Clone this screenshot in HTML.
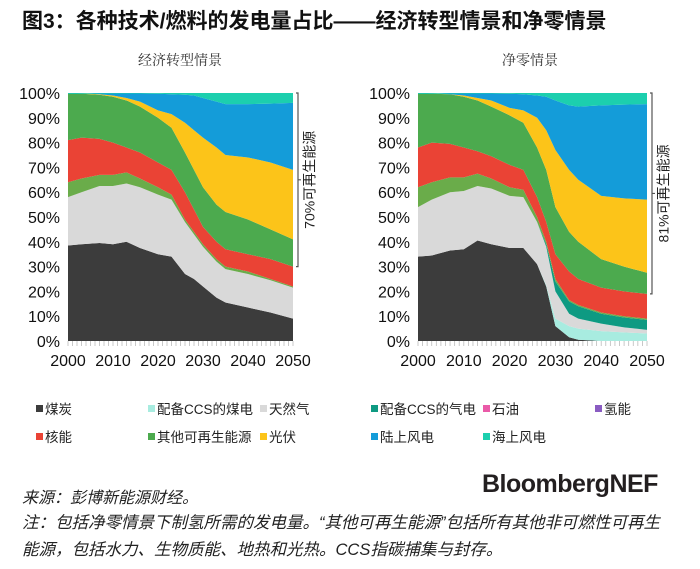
<!DOCTYPE html>
<html><head><meta charset="utf-8">
<style>
body{margin:0;width:700px;height:569px;background:#fff;font-family:"Liberation Sans","Noto Sans CJK SC",sans-serif;overflow:hidden;position:relative}
.t{position:absolute;white-space:nowrap}
</style></head>
<body>
<div class="t" style="left:22px;top:5px;font-size:21px;font-weight:bold;color:#111;">图3：各种技术/燃料的发电量占比——经济转型情景和净零情景</div>
<svg id="c" width="700" height="569" style="position:absolute;left:0;top:0"></svg>
<div class="t" style="left:22px;top:484px;font-size:16px;font-style:italic;color:#222;">来源：彭博新能源财经。</div>
<div class="t" style="left:482px;top:470px;font-size:25px;font-weight:bold;color:#231f20;letter-spacing:-0.5px">BloombergNEF</div>
<div class="t" style="left:22px;top:510px;font-size:16.5px;font-style:italic;color:#222;line-height:27px;white-space:normal;width:652px">注：包括净零情景下制氢所需的发电量。“其他可再生能源”包括所有其他非可燃性可再生能源，包括水力、生物质能、地热和光热。CCS指碳捕集与封存。</div>
<script>
const years=[2000,2003,2007,2010,2013,2016,2020,2023,2026,2028,2030,2033,2035,2040,2045,2050];
// cumulative tops (%) — economic transition scenario
const etCoal=[38.5,39,39.5,39,40,37.5,35,34,27,25,22,17.5,15.5,13.5,11.5,9];
const etCoalCcs=[38.5,39,39.5,39,40,37.5,35,34,27,25,22,17.5,15.5,13.5,11.5,9];
const etGas=[58,60,62.5,62.5,63.5,62,59,57,48,43,38,32,29,27,24.5,21.5];
const etGasCcs=[58,60,62.5,62.5,63.5,62,59,57,48,43,38,32,29,27,24.5,21.5];
const etOil=[64,65.5,67,67,68,65.5,62,59,49,44,39,33,30,28,25,22];
const etNuclear=[81,82,81.5,80,78,76,72,69,60,53,46,40,37,35,33,30];
const etOther=[100,99.7,99.3,98.5,97,94.5,90,86,76,69,62,55,52,49,45,41];
const etSolar=[100,99.8,99.5,99,98,96.5,93,91.5,88,85,82,78,75,74,72,69];
const etOnshore=[99.7,99.7,99.8,99.8,99.8,99.8,99.7,99.5,99.3,99,98,96.5,95.5,95.5,95.7,96];
// net zero scenario
const nzCoal=[34,34.5,36.5,37,40.5,39,37.5,37.5,31,22,6,1.5,0.5,0,0,0];
const nzCoalCcs=[34,34.5,36.5,37,40.5,39,37.5,37.5,31,22.5,9,6,5,4,3.5,3];
const nzGas=[54,57,60,60.5,62.5,61.5,58.5,58,48,38,20,11,9,7,5.5,4.5];
const nzGasCcs=[54,57,60,60.5,62.5,61.5,58.5,58,48,39,24,16,14,11,9.5,8.5];
const nzOil=[62,64,66,66,67.5,65.5,62,61,50,40,25,16.5,14.5,11.5,10,9];
const nzNuclear=[78,80,79.5,78,76.5,74.5,71,69,58,48,35,28,25,21.5,20,19];
const nzOther=[100,99.7,99.5,98.5,97,94.5,91,88,78,69,54,44,40,33,30,27.5];
const nzSolar=[100,99.8,99.5,99,98,97,94,93,90,85,77,69,65,58.5,57.5,57];
const nzOnshore=[99.7,99.7,99.8,99.8,99.8,99.8,99.7,99.5,99,98.5,97,95,94.5,95,95.3,95.5];
const yTicks=[0,10,20,30,40,50,60,70,80,90,100];
const xTicks=[2000,2010,2020,2030,2040,2050];
const colors=['#3c3c3c','#a8ece0','#d9d9d9','#0e9a82','#6aac4a','#ea4335','#4caa4e','#fcc419','#149cd9','#1ccfae'];
const legendNames=['煤炭','配备CCS的煤电','天然气','配备CCS的气电','石油','氢能','核能','其他可再生能源','光伏','陆上风电','海上风电'];
const legendColors=['#3c3c3c','#a8ece0','#d9d9d9','#0e9a82','#ea5aa8','#8a5cc2','#ea4335','#4caa4e','#fcc419','#149cd9','#1ccfae'];
const NS='http://www.w3.org/2000/svg';
const svg=document.getElementById('c');
function el(tag,attrs,parent){const e=document.createElementNS(NS,tag);for(const k in attrs)e.setAttribute(k,attrs[k]);(parent||svg).appendChild(e);return e;}
const Y0=341,Y1=93;
function yS(v){return Y0-(v/100)*(Y0-Y1);}
function drawChart(x0,x1,layers,title,tcx,brX,brBottom,brLabel,key){
  const xS=y=>x0+(y-2000)/50*(x1-x0);
  const g=el('g',{});
  
  
  const t=el('text',{x:tcx,y:65,'font-size':14,'text-anchor':'middle',fill:'#333','font-family':'"Liberation Serif","Noto Serif CJK SC",serif'},g);
  t.textContent=title;
  
  
  let prev=years.map(()=>0);
  layers.forEach((top,i)=>{
    let d='M'+years.map((y,j)=>xS(y)+','+yS(top[j])).join('L');
    for(let j=years.length-1;j>=0;j--)d+='L'+xS(years[j])+','+yS(prev[j]);
    const p=el('path',{d:d+'Z',fill:colors[i]},g);
    
    
    prev=top;
  });
  let d='M'+xS(2000)+','+yS(100)+'L'+xS(2050)+','+yS(100);
  for(let j=years.length-1;j>=0;j--)d+='L'+xS(years[j])+','+yS(prev[j]);
  const off=el('path',{d:d+'Z',fill:colors[9]},g);
  
  
  yTicks.forEach(v=>{const tx=el('text',{x:x0-8,y:yS(v)+6,'font-size':16,'text-anchor':'end',fill:'#111'},g);tx.textContent=v+'%';
    
    });
  for(let y=2000;y<=2050;y++)el('line',{x1:xS(y),x2:xS(y),y1:Y0,y2:Y0+5,stroke:'#bbb','stroke-width':0.8},g);
  xTicks.forEach(v=>{const tx=el('text',{x:xS(v),y:Y0+25,'font-size':16,'text-anchor':'middle',fill:'#111'},g);tx.textContent=v;
    
    });
  const b=el('path',{d:`M${brX-2},${Y1}H${brX}V${yS(brBottom)}H${brX-2}M${brX},${(Y1+yS(brBottom))/2}H${brX+3}`,fill:'none',stroke:'#555','stroke-width':1.2},g);
  
  
  const cy=(Y1+yS(brBottom))/2;
  const bl=el('text',{x:brX+13,y:cy,'font-size':14,'text-anchor':'middle',fill:'#222',transform:`rotate(-90 ${brX+13} ${cy})`,'dominant-baseline':'middle'},g);
  bl.textContent=brLabel;
  
  
}
drawChart(68,293,[etCoal,etCoalCcs,etGas,etGasCcs,etOil,etNuclear,etOther,etSolar,etOnshore],'经济转型情景',180,298,30,'70%可再生能源','et');
drawChart(418,647,[nzCoal,nzCoalCcs,nzGas,nzGasCcs,nzOil,nzNuclear,nzOther,nzSolar,nzOnshore],'净零情景',530,652,19,'81%可再生能源','nz');
const lx=[36,148,260,371,483,595];
const lg=el('g',{});


legendNames.forEach((n,i)=>{
  const row=i<6?0:1, col=i<6?i:i-6;
  const x=lx[col], y=row?437:409;
  const e=el('g',{},lg);
  
  
  el('rect',{x:x,y:y-4,width:7,height:7,fill:legendColors[i]},e);
  const t=el('text',{x:x+9,y:y+5,'font-size':13.5,fill:'#222'},e);t.textContent=n;
});
</script>
</body></html>
